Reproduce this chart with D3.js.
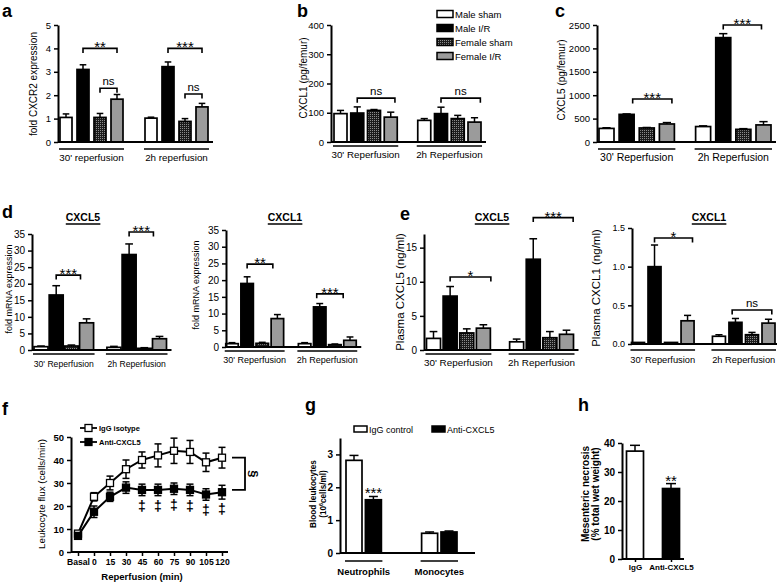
<!DOCTYPE html>
<html><head><meta charset="utf-8">
<script src="https://cdn.jsdelivr.net/npm/d3@7"></script>
<style>
body{margin:0;background:#fff}
svg{display:block}
text{font-family:"Liberation Sans",Arial,sans-serif;fill:#000}
</style>
</head><body>
<svg id="chart" width="777" height="582"></svg>
<script>
// ---------------- DATA ----------------
const seriesNames = ["Male sham", "Male I/R", "Female sham", "Female I/R"];
const groupsA = ["30' reperfusion", "2h reperfusion"];
const groupsR = ["30' Reperfusion", "2h Reperfusion"];

const aTicks = [0, 1, 2, 3, 4, 5];
const aMean = [[1.05, 3.1, 1.05, 1.83], [1.02, 3.22, 0.88, 1.5]];
const aErr  = [[0.15, 0.2, 0.17, 0.2], [0.04, 0.2, 0.12, 0.15]];
const aSig  = [[0, 1, 3, 4.0, "**"], [0, 2, 3, 2.3, "ns"], [1, 1, 3, 4.0, "***"], [1, 2, 3, 2.05, "ns"]];

const bTicks = [0, 100, 200, 300, 400];
const bMean = [[97, 99, 108, 85], [74, 97, 80, 68]];
const bErr  = [[11, 21, 3, 17], [6, 22, 11, 15]];
const bSig  = [[0, 1, 3.25, 150, "ns"], [1, 1, 3.35, 150, "ns"]];

const cTicks = [0, 500, 1000, 1500, 2000, 2500];
const cMean = [[290, 590, 300, 385], [330, 2230, 270, 365]];
const cErr  = [[15, 10, 10, 30], [15, 85, 15, 70]];
const cSig  = [[0, 1.3, 3.25, 920, "***"], [1, 1, 2.9, 2500, "***"]];

const dTicks = [0, 5, 10, 15, 20, 25, 30, 35];
const d5Mean = [[1.0, 16.6, 1.2, 8.2], [0.8, 28.8, 0.5, 3.4]];
const d5Err  = [[0.2, 2.8, 0.3, 1.2], [0.3, 3.2, 0.2, 0.7]];
const d5Sig  = [[0, 1, 2.6, 22.6, "***"], [1, 1, 2.6, 35.6, "***"]];
const d1Mean = [[1.0, 19, 1.1, 8.5], [1.0, 12, 0.7, 2.0]];
const d1Err  = [[0.3, 2.0, 0.3, 1.2], [0.3, 1.0, 0.2, 1.0]];
const d1Sig  = [[0, 1, 2.7, 24.8, "**"], [1, 0.8, 2.55, 15.9, "***"]];

const e5Ticks = [0, 5, 10, 15];
const e5Mean = [[1.7, 7.9, 2.5, 3.2], [1.2, 13.3, 1.8, 2.3]];
const e5Err  = [[1.0, 1.4, 0.6, 0.5], [0.4, 3.0, 0.9, 0.6]];
const e5Sig  = [[0, 1, 3.45, 10.7, "*"], [1, 1, 3.4, 19.4, "***"]];
const e1Ticks = [0, 0.5, 1.0, 1.5];
const e1Mean = [[0.02, 1.0, 0.02, 0.3], [0.1, 0.28, 0.12, 0.27]];
const e1Err  = [[0.0, 0.28, 0.0, 0.07], [0.02, 0.05, 0.03, 0.05]];
const e1Sig  = [[0, 1, 3.3, 1.37, "*"], [1, 0.8, 3.2, 0.44, "ns"]];

const fCats  = ["Basal", "0", "15", "30", "45", "60", "75", "90", "105", "120"];
const fTicks = [0, 10, 20, 30, 40, 50];
const fSeries = ["IgG isotype", "Anti-CXCL5"];
const fIgG     = [8, 24, 30, 36, 40, 42, 44, 43.5, 39, 41];
const fIgGErr  = [1, 1.8, 3, 4, 3.5, 5, 5.5, 5, 4, 4.5];
const fAnti    = [7, 17.5, 24, 28, 27, 27, 27.5, 27, 25, 26];
const fAntiErr = [1, 2.5, 2, 2.5, 2.5, 2.5, 2.5, 2.5, 2.5, 3];
const fDagger  = ["45", "60", "75", "90", "105", "120"];
const fSection = [41, 27];

const gSeries = ["IgG control", "Anti-CXCL5"];
const gCats   = ["Neutrophils", "Monocytes"];
const gTicks  = [0, 1, 2, 3];
const gMean = [[2.82, 1.62], [0.6, 0.64]];
const gErr  = [[0.15, 0.1], [0.04, 0.03]];

const hCats  = ["IgG", "Anti-CXCL5"];
const hTicks = [0, 10, 20, 30, 40];
const hMean  = [37.2, 24.3];
const hErr   = [2.0, 1.7];

// ---------------- DRAWING ----------------
const svg = d3.select("#chart");
const defs = svg.append("defs");
const pat = defs.append("pattern").attr("id", "chk").attr("width", 2).attr("height", 2)
  .attr("patternUnits", "userSpaceOnUse");
pat.append("rect").attr("width", 2).attr("height", 2).attr("fill", "#1c1c1c");
pat.append("rect").attr("width", 1).attr("height", 1).attr("fill", "#8c8c8c");

const FILLS = ["#ffffff", "#000000", "url(#chk)", "#9b9b9b"];
const FONT = '"Liberation Sans",Arial,sans-serif';

function letter(t, x, y) {
  svg.append("text").attr("x", x).attr("y", y).attr("font-size", 18)
    .attr("font-weight", "bold").text(t);
}
function yLabel(g, lines, x, y, size, bold, spacing) {
  const t = g.append("text").attr("transform", `translate(${x},${y}) rotate(-90)`)
    .attr("text-anchor", "middle").attr("font-size", size)
    .attr("font-weight", bold ? "bold" : "normal");
  lines.forEach((l, i) => {
    const ts = t.append("tspan").attr("x", 0).attr("dy", i === 0 ? 0 : (spacing || size * 1.15));
    if (Array.isArray(l)) {
      l.forEach(p => {
        const s = ts.append("tspan").text(p.t);
        if (p.sup) s.attr("baseline-shift", "super").attr("font-size", size * 0.65);
      });
    } else ts.text(l);
  });
  return t;
}
function styleAxis(sel, size, bold) {
  sel.select(".domain").attr("stroke-width", 2);
  sel.selectAll(".tick line").attr("stroke-width", 1.5);
  sel.selectAll(".tick text").attr("font-size", size).attr("font-family", FONT)
    .attr("font-weight", bold ? "bold" : "normal").attr("fill", "#000");
}
function sigBracket(g, x1, x2, yy, label) {
  g.append("path").attr("d", `M${x1},${yy + 4.5}V${yy}H${x2}V${yy + 4.5}`)
    .attr("fill", "none").attr("stroke", "#000").attr("stroke-width", 1.6);
  const star = label.indexOf("*") >= 0;
  g.append("text").attr("x", (x1 + x2) / 2).attr("y", star ? yy + 4 : yy - 3)
    .attr("text-anchor", "middle").attr("font-size", star ? 15 : 11.5).text(label);
}
function errUp(g, cx, yTop, yErr, cap) {
  g.append("line").attr("x1", cx).attr("x2", cx).attr("y1", yTop).attr("y2", yErr)
    .attr("stroke", "#000").attr("stroke-width", 1.5);
  g.append("line").attr("x1", cx - cap / 2).attr("x2", cx + cap / 2).attr("y1", yErr).attr("y2", yErr)
    .attr("stroke", "#000").attr("stroke-width", 1.5);
}

function barPanel(o) {
  const g = svg.append("g");
  const y = d3.scaleLinear().domain([0, o.max]).range([o.y0, o.y1]);
  const n = o.mean[0].length;
  const slot = (gi, i) => gi * (n + o.gap) + i;
  const lastSlot = slot(o.mean.length - 1, n - 1);
  const x = d3.scaleLinear().domain([0, lastSlot]).range([o.x0, o.x1]);

  o.mean.forEach((grp, gi) => grp.forEach((v, i) => {
    const cx = x(slot(gi, i));
    const e = o.err[gi][i];
    if (e > 0) errUp(g, cx, y(v), y(v + e), o.bw * 0.55);
    g.append("rect").attr("x", cx - o.bw / 2).attr("y", y(v))
      .attr("width", o.bw).attr("height", Math.max(0, y(0) - y(v)))
      .attr("fill", FILLS[i]).attr("stroke", "#000").attr("stroke-width", 1.7);
  }));

  const ax = g.append("g").attr("transform", `translate(${o.ax},0)`)
    .call(d3.axisLeft(y).tickValues(o.ticks).tickSize(4).tickSizeOuter(0)
      .tickFormat(o.fmt || d3.format("d")));
  styleAxis(ax, o.tickSize || 9.5, false);

  g.append("line").attr("x1", o.ax).attr("x2", x(lastSlot) + o.bw / 2 + 5)
    .attr("y1", y(0)).attr("y2", y(0)).attr("stroke", "#000").attr("stroke-width", 2);

  o.groups.forEach((lab, gi) => {
    const l = x(slot(gi, 0)) - o.bw / 2 - 1, r = x(slot(gi, n - 1)) + o.bw / 2 + 1;
    g.append("line").attr("x1", l).attr("x2", r).attr("y1", y(0) + o.ulOff).attr("y2", y(0) + o.ulOff)
      .attr("stroke", "#000").attr("stroke-width", 1.6);
    g.append("text").attr("x", (l + r) / 2).attr("y", y(0) + o.labOff).attr("text-anchor", "middle")
      .attr("font-size", o.labSize || 10).text(lab);
  });

  o.sig.forEach(s => {
    sigBracket(g, x(slot(s[0], s[1])), x(slot(s[0], s[2])), y(s[3]), s[4]);
  });

  yLabel(g, [o.ylabel], o.ylx, o.yly, o.ylSize || 10, false);

  if (o.title) {
    const t = g.append("text").attr("x", o.title[1]).attr("y", o.title[2]).attr("text-anchor", "middle")
      .attr("font-size", 10.5).attr("font-weight", "bold").text(o.title[0]);
    const bb = t.node().getBBox();
    g.append("line").attr("x1", bb.x).attr("x2", bb.x + bb.width).attr("y1", o.title[2] + 3)
      .attr("y2", o.title[2] + 3).attr("stroke", "#000").attr("stroke-width", 1.5);
  }
  return g;
}

// ---- panel a
letter("a", 2, 17);
barPanel({max: 5, ticks: aTicks, y0: 142, y1: 25, ax: 58, x0: 66, x1: 202, gap: 1, bw: 12,
  mean: aMean, err: aErr, sig: aSig, groups: groupsA, ulOff: 7, labOff: 19, labSize: 9.8,
  ylabel: "fold CXCR2 expression", ylx: 37, yly: 84});

// ---- panel b
letter("b", 297, 17);
barPanel({max: 400, ticks: bTicks, y0: 142, y1: 25, ax: 331, x0: 340.5, x1: 474.5, gap: 1, bw: 13,
  mean: bMean, err: bErr, sig: bSig, groups: groupsR, ulOff: 4, labOff: 16, labSize: 9.8,
  ylabel: "CXCL1 (pg/femur)", ylx: 307, yly: 78});
// legend b
seriesNames.forEach((s, i) => {
  const yy = 14 + i * 14;
  svg.append("rect").attr("x", 437).attr("y", yy - 3.5).attr("width", 16).attr("height", 7)
    .attr("fill", FILLS[i]).attr("stroke", "#000").attr("stroke-width", 1.5);
  svg.append("text").attr("x", 455).attr("y", yy + 3.5).attr("font-size", 9.5).text(s);
});

// ---- panel c
letter("c", 555, 17);
barPanel({max: 2500, ticks: cTicks, y0: 142, y1: 25, ax: 597, x0: 606.5, x1: 763.5, gap: 0.8, bw: 15,
  mean: cMean, err: cErr, sig: cSig, groups: groupsR, ulOff: 7, labOff: 19, labSize: 10.5,
  ylabel: "CXCL5 (pg/femur)", ylx: 565, yly: 80});

// ---- panel d
letter("d", 2, 218);
barPanel({max: 35, ticks: dTicks, y0: 350, y1: 234, ax: 32, x0: 41, x1: 159.5, gap: 0.8, bw: 14,
  mean: d5Mean, err: d5Err, sig: d5Sig, groups: groupsR, ulOff: 4, labOff: 17, labSize: 8.6, tickSize: 10,
  ylabel: "fold  mRNA expression", ylx: 12, yly: 289, ylSize: 9, title: ["CXCL5", 83, 221]});
barPanel({max: 35, ticks: dTicks, y0: 347, y1: 230, ax: 226, x0: 232, x1: 350, gap: 0.8, bw: 12.5,
  mean: d1Mean, err: d1Err, sig: d1Sig, groups: groupsR, ulOff: 4, labOff: 16, labSize: 9, tickSize: 10,
  ylabel: "fold mRNA expression", ylx: 199, yly: 285, ylSize: 9, title: ["CXCL1", 285, 221]});

// ---- panel e
letter("e", 400, 220);
barPanel({max: 17, ticks: e5Ticks, y0: 350, y1: 234, ax: 424, x0: 433.5, x1: 566.5, gap: 1, bw: 14,
  mean: e5Mean, err: e5Err, sig: e5Sig, groups: groupsR, ulOff: 4, labOff: 16, labSize: 9.9, tickSize: 10,
  ylabel: "Plasma CXCL5 (ng/ml)", ylx: 404, yly: 292, ylSize: 11.5, title: ["CXCL5", 492, 221]});
barPanel({max: 1.5, ticks: e1Ticks, y0: 344, y1: 228, ax: 632, x0: 638, x1: 768.5, gap: 0.9, bw: 13,
  mean: e1Mean, err: e1Err, sig: e1Sig, groups: groupsR, ulOff: 6, labOff: 19, labSize: 9.3,
  fmt: d3.format(".1f"), tickSize: 9,
  ylabel: "Plasma CXCL1 (ng/ml)", ylx: 600, yly: 288, ylSize: 11.5, title: ["CXCL1", 709, 221]});

// ---- panel f
letter("f", 2, 415);
(function () {
  const g = svg.append("g");
  const x = d3.scalePoint().domain(fCats).range([78, 222]);
  const y = d3.scaleLinear().domain([0, 50]).range([552, 437]);
  const ay = g.append("g").attr("transform", "translate(71,0)")
    .call(d3.axisLeft(y).tickValues(fTicks).tickSize(4).tickSizeOuter(0).tickFormat(d3.format("d")));
  styleAxis(ay, 9.5, true);
  const axx = g.append("g").attr("transform", "translate(0,552)")
    .call(d3.axisBottom(x).tickSize(4).tickSizeOuter(0).tickPadding(3));
  axx.select(".domain").remove();
  styleAxis(axx, 8.6, true);
  g.append("line").attr("x1", 71).attr("x2", 228).attr("y1", 552).attr("y2", 552)
    .attr("stroke", "#000").attr("stroke-width", 2);

  const series = [{m: fIgG, e: fIgGErr, fill: "#fff"}, {m: fAnti, e: fAntiErr, fill: "#000"}];
  series.forEach(s => {
    fCats.forEach((c, i) => {
      const cx = x(c);
      g.append("line").attr("x1", cx).attr("x2", cx).attr("y1", y(s.m[i] - s.e[i])).attr("y2", y(s.m[i] + s.e[i]))
        .attr("stroke", "#000").attr("stroke-width", 1.5);
      [s.m[i] - s.e[i], s.m[i] + s.e[i]].forEach(v =>
        g.append("line").attr("x1", cx - 3.5).attr("x2", cx + 3.5).attr("y1", y(v)).attr("y2", y(v))
          .attr("stroke", "#000").attr("stroke-width", 1.5));
    });
    g.append("path").datum(s.m).attr("fill", "none").attr("stroke", "#000").attr("stroke-width", 2)
      .attr("d", d3.line().x((d, i) => x(fCats[i])).y(d => y(d)));
    fCats.forEach((c, i) => {
      g.append("rect").attr("x", x(c) - 3.5).attr("y", y(s.m[i]) - 3.5).attr("width", 7).attr("height", 7)
        .attr("fill", s.fill).attr("stroke", "#000").attr("stroke-width", 1.3);
    });
  });
  fDagger.forEach(c => {
    const i = fCats.indexOf(c);
    g.append("text").attr("x", x(c)).attr("y", y(fAnti[i] - fAntiErr[i]) + 15)
      .attr("text-anchor", "middle").attr("font-size", 14).attr("font-weight", "bold").text("‡");
  });
  // section bracket
  const yb1 = y(fSection[0]), yb2 = y(fSection[1]);
  g.append("path").attr("d", `M232,${yb1}H245V${yb2}H232`).attr("fill", "none")
    .attr("stroke", "#000").attr("stroke-width", 1.8);
  g.append("text").attr("transform", `translate(249,${(yb1 + yb2) / 2}) rotate(90)`)
    .attr("text-anchor", "middle").attr("font-size", 13).attr("font-weight", "bold").text("§");
  // legend
  fSeries.forEach((s, i) => {
    const yy = 428 + i * 14;
    g.append("line").attr("x1", 80).attr("x2", 97).attr("y1", yy).attr("y2", yy)
      .attr("stroke", "#000").attr("stroke-width", 1.8);
    g.append("rect").attr("x", 85).attr("y", yy - 3.5).attr("width", 7).attr("height", 7)
      .attr("fill", series[i].fill).attr("stroke", "#000").attr("stroke-width", 1.3);
    g.append("text").attr("x", 99).attr("y", yy + 3).attr("font-size", 7.5).attr("font-weight", "bold").text(s);
  });
  g.append("text").attr("x", 142).attr("y", 580).attr("text-anchor", "middle")
    .attr("font-size", 9.5).attr("font-weight", "bold").text("Reperfusion (min)");
  yLabel(g, ["Leukocyte flux (cells/min)"], 45, 494, 9.8, false);
})();

// ---- panel g
letter("g", 305, 411);
(function () {
  const g = svg.append("g");
  const y = d3.scaleLinear().domain([0, 3.5]).range([553, 438]);
  const gap = 1.9, n = 2;
  const slot = (gi, i) => gi * (n + gap) + i;
  const x = d3.scaleLinear().domain([0, slot(1, 1)]).range([354, 449]);
  const bw = 16;
  gMean.forEach((grp, gi) => grp.forEach((v, i) => {
    const cx = x(slot(gi, i));
    errUp(g, cx, y(v), y(v + gErr[gi][i]), 9);
    g.append("rect").attr("x", cx - bw / 2).attr("y", y(v)).attr("width", bw).attr("height", y(0) - y(v))
      .attr("fill", i === 0 ? "#fff" : "#000").attr("stroke", "#000").attr("stroke-width", 1.7);
  }));
  const ay = g.append("g").attr("transform", "translate(340,0)")
    .call(d3.axisLeft(y).tickValues(gTicks).tickSize(4).tickSizeOuter(0).tickFormat(d3.format("d")));
  styleAxis(ay, 10, true);
  g.append("line").attr("x1", 340).attr("x2", 475).attr("y1", y(0)).attr("y2", y(0))
    .attr("stroke", "#000").attr("stroke-width", 2);
  gCats.forEach((c, gi) => {
    const l = x(slot(gi, 0)) - bw / 2 - 1, r = x(slot(gi, 1)) + bw / 2 + 1;
    g.append("line").attr("x1", l).attr("x2", r).attr("y1", 561).attr("y2", 561)
      .attr("stroke", "#000").attr("stroke-width", 1.5);
    g.append("text").attr("x", (l + r) / 2).attr("y", 575).attr("text-anchor", "middle")
      .attr("font-size", 9.5).attr("font-weight", "bold").text(c);
  });
  const cx = x(slot(0, 1));
  g.append("text").attr("x", cx).attr("y", y(gMean[0][1] + gErr[0][1]) + 2).attr("text-anchor", "middle")
    .attr("font-size", 15).text("***");
  gSeries.forEach((s, i) => {
    const lx = i === 0 ? 354 : 432;
    g.append("rect").attr("x", lx).attr("y", 426).attr("width", 13).attr("height", 6)
      .attr("fill", i === 0 ? "#fff" : "#000").attr("stroke", "#000").attr("stroke-width", 1.5);
    g.append("text").attr("x", lx + 15).attr("y", 432.5).attr("font-size", 9).text(s);
  });
  yLabel(g, ["Blood leukocytes", [{t: "(10"}, {t: "6", sup: true}, {t: "cells/ml)"}]], 316, 494, 8.2, true, 10);
})();

// ---- panel h
letter("h", 578, 411);
(function () {
  const g = svg.append("g");
  const y = d3.scaleLinear().domain([0, 40]).range([559, 443]);
  const x = d3.scalePoint().domain(hCats).range([635, 671]);
  const bw = 17;
  hCats.forEach((c, i) => {
    const cx = x(c);
    errUp(g, cx, y(hMean[i]), y(hMean[i] + hErr[i]), 10);
    g.append("rect").attr("x", cx - bw / 2).attr("y", y(hMean[i])).attr("width", bw)
      .attr("height", y(0) - y(hMean[i])).attr("fill", i === 0 ? "#fff" : "#000")
      .attr("stroke", "#000").attr("stroke-width", 1.7);
  });
  const ay = g.append("g").attr("transform", "translate(622,0)")
    .call(d3.axisLeft(y).tickValues(hTicks).tickSize(4).tickSizeOuter(0).tickFormat(d3.format("d")));
  styleAxis(ay, 10, true);
  const axx = g.append("g").attr("transform", `translate(0,${y(0)})`)
    .call(d3.axisBottom(x).tickSize(3).tickSizeOuter(0).tickPadding(2));
  axx.select(".domain").remove();
  styleAxis(axx, 8, true);
  g.append("line").attr("x1", 622).attr("x2", 684).attr("y1", y(0)).attr("y2", y(0))
    .attr("stroke", "#000").attr("stroke-width", 2);
  g.append("text").attr("x", x(hCats[1])).attr("y", y(hMean[1] + hErr[1]) + 2).attr("text-anchor", "middle")
    .attr("font-size", 15).text("**");
  yLabel(g, ["Mesenteric necrosis", "(% total wet weight)"], 589, 494, 10, true, 10);
})();
</script>
</body></html>
